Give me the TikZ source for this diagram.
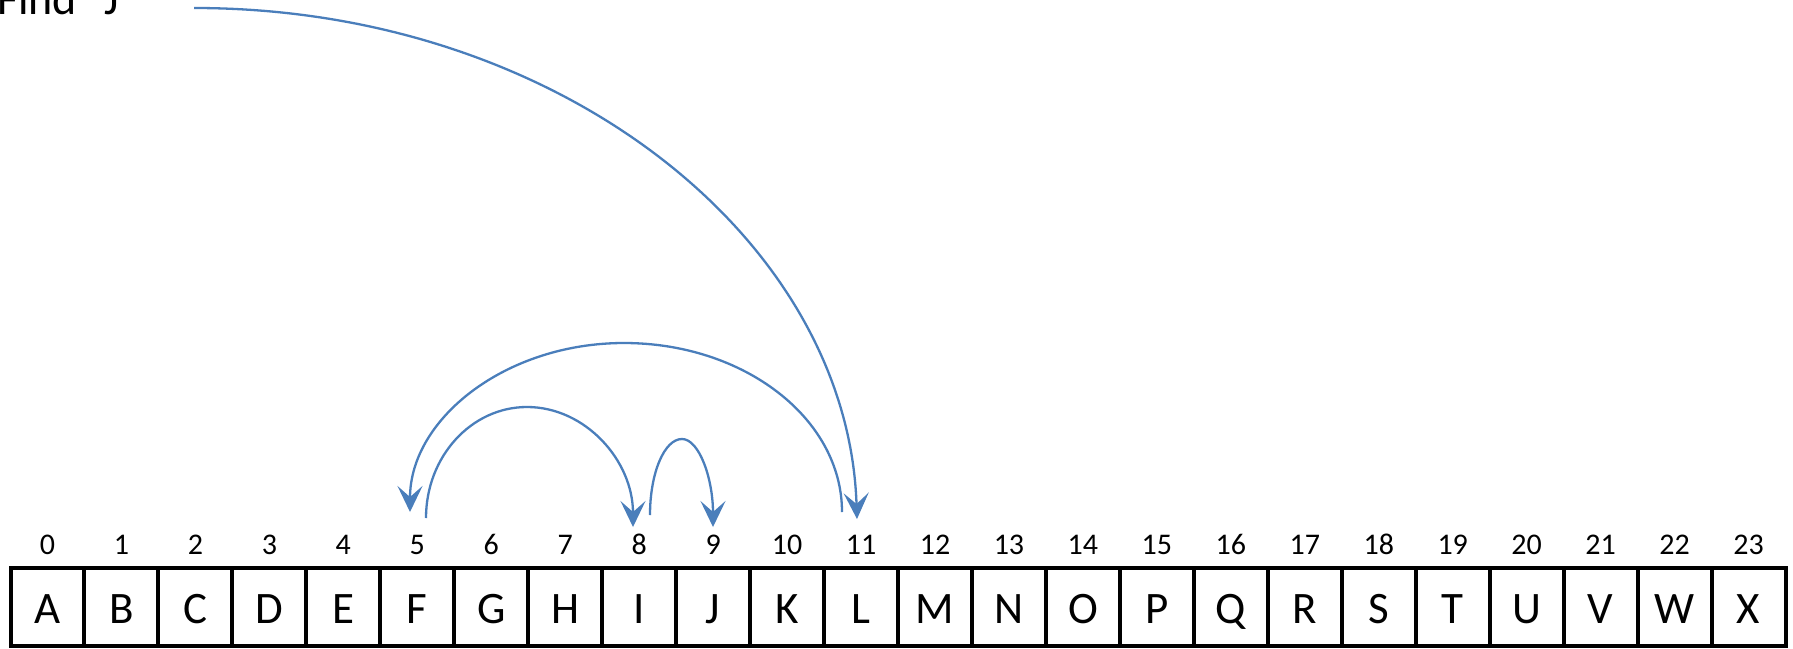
\documentclass[tikz,border=0pt]{standalone}
\usepackage{fontspec}
\setmainfont{Carlito}
\usetikzlibrary{arrows.meta}
\definecolor{arcblue}{HTML}{4A7EBB}
\tikzset{
  cell/.style={draw=black, line width=4pt, minimum width=73.96pt, minimum height=77.8pt,
    inner sep=0pt, outer sep=0pt, font=\fontsize{45}{45}\selectfont, text height=32.8pt, text depth=0pt},
  idx/.style={anchor=base, inner sep=0pt, font=\fontsize{30}{30}\selectfont},
  jump/.style={draw=arcblue, line width=2.3pt,
    -{Stealth[length=26pt, width=25pt, inset=11pt]}},
  title/.style={anchor=base west, inner sep=0pt, font=\fontsize{46}{46}\selectfont}
}
\begin{document}
\begin{tikzpicture}[x=1pt,y=-1pt]
\useasboundingbox (0,0) rectangle (1793,648);
\fill[white] (0,0) rectangle (1793,648);
\foreach \l [count=\i from 0] in {A,B,C,D,E,F,G,H,I,J,K,L,M,N,O,P,Q,R,S,T,U,V,W,X} {
  \node[cell] (\l) at ({10.5+73.96*(\i+0.5)},606.6) {\l};
  \node[idx] (n\i) at ({10.5+73.96*(\i+0.5)},554) {\i};
}
\node[title] (find) at (-3,14) {Find “J”};
% arc end points
\coordinate (s0) at (194,8);
\coordinate (e0) at (857,519);
\coordinate (s1) at (842,512);
\coordinate (e1) at (410,512);
\coordinate (s2) at (426,518);
\coordinate (e2) at (633,527);
\coordinate (s3) at (650,515);
\coordinate (e3) at (713,527);
\draw[jump] (s0) .. controls (560,8) and (848,240) .. (e0);
\draw[jump] (s1) .. controls (842,418.7) and (744.4,343) .. (624,343)
               .. controls (505.8,343) and (410,418.7) .. (e1);
\draw[jump] (s2) .. controls (426,456.7) and (471.2,407) .. (527,407)
               .. controls (585.5,407) and (633,460.7) .. (e2);
\draw[jump] (s3) .. controls (650,473) and (664.3,439) .. (682,439)
               .. controls (699.1,439) and (713,478.4) .. (e3);
\end{tikzpicture}
\end{document}
